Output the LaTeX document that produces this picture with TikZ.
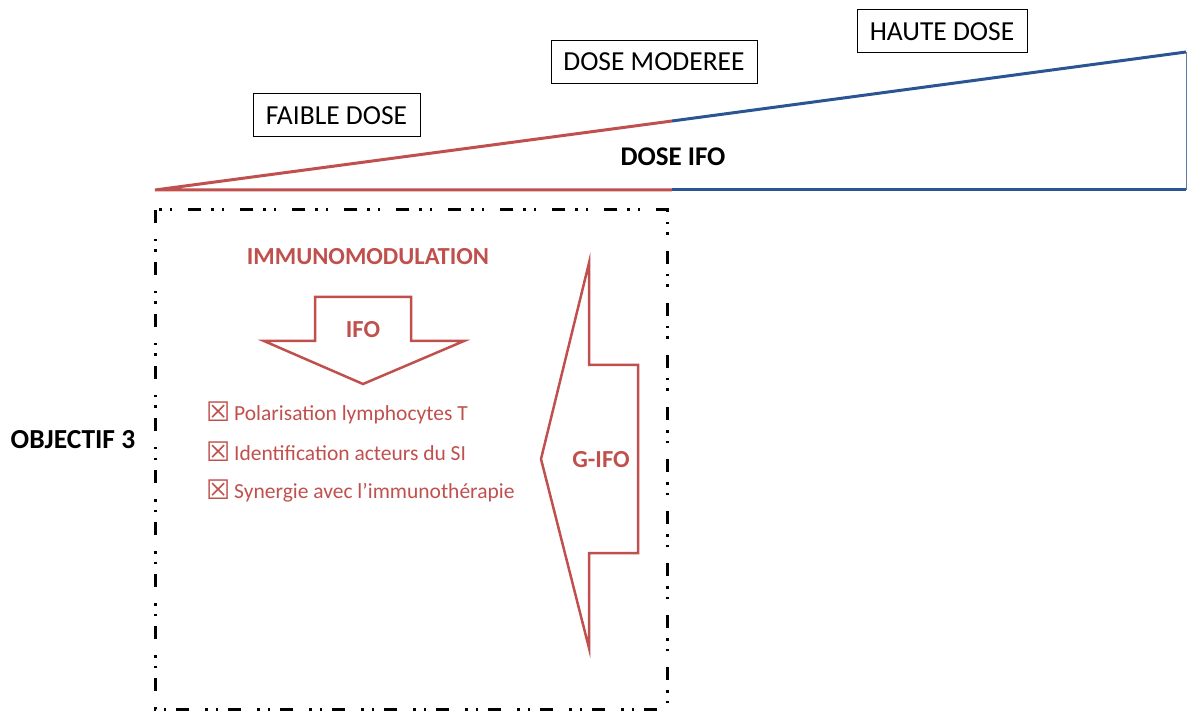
\documentclass[tikz,border=0pt]{standalone}
\usepackage{fontspec}
\setmainfont{Carlito}
\newfontfamily\symfont{DejaVu Sans}
\definecolor{myred}{HTML}{C0504D}
\definecolor{myblue}{HTML}{2B5592}
\definecolor{edgeblue}{HTML}{5A7BA8}
\newcommand{\cbx}{\makebox[28pt][l]{\raisebox{-1.5pt}{\symfont\fontsize{27}{30}\selectfont ☒}}}
\tikzset{
  lbl/.style={draw=black, line width=1pt, minimum height=43pt, inner xsep=8pt, font=\fontsize{27.5}{30}\selectfont},
  redtxt/.style={text=myred, font=\bfseries\fontsize{24.5}{28}\selectfont},
  item/.style={text=myred, anchor=west, inner sep=0pt, font=\fontsize{21.5}{25}\selectfont},
  arrowshape/.style={draw=myred, line width=2.5pt, line join=miter},
  framebox/.style={draw=black, line width=3pt, line cap=butt, dash pattern=on 13pt off 16pt on 2.5pt off 8pt on 2.5pt off 10pt}
}
\begin{document}
\begin{tikzpicture}[x=1pt,y=-1pt]
\useasboundingbox (0,0) rectangle (1187,711);
% dose triangle
\coordinate (apex) at (155,190);
\coordinate (mid) at (672,121);
\coordinate (midb) at (672,190);
\coordinate (top) at (1186,52);
\coordinate (bot) at (1186,190);
\draw[myred, line width=3pt, line join=miter] (mid) -- (apex) -- (midb);
\draw[myblue, line width=3pt] (mid) -- (top);
\draw[myblue, line width=3pt] (midb) -- (bot);
\draw[edgeblue, line width=1pt] (top) -- (bot);
\node[font=\bfseries\fontsize{27}{30}\selectfont] (doseifo) at (673,157) {DOSE IFO};
% labels
\node[lbl, minimum width=167pt] (faible) at (336.5,115.5) {FAIBLE DOSE};
\node[lbl, minimum width=206pt] (moderee) at (654,62) {DOSE MODEREE};
\node[lbl, minimum width=170pt] (haute) at (942,31.5) {HAUTE DOSE};
% frame
\draw[framebox] (155,210) rectangle (667,709);
\node[font=\bfseries\fontsize{27.5}{30}\selectfont] (obj) at (73,440) {OBJECTIF 3};
\node[redtxt] (immuno) at (368,257) {IMMUNOMODULATION};
% down arrow
\draw[arrowshape] (315,297) -- (411,297) -- (411,341) -- (464,341) -- (363,384) -- (264,341) -- (315,341) -- cycle;
\node[redtxt] (ifo) at (363,330) {IFO};
% list
\node[item] (i1) at (206,413) {\cbx Polarisation lymphocytes T};
\node[item] (i2) at (206,452) {\cbx Identification acteurs du SI};
\node[item] (i3) at (206,491) {\cbx Synergie avec l’immunothérapie};
% left arrow
\draw[arrowshape] (589,263) -- (589,365) -- (638,365) -- (638,553) -- (589,553) -- (589,648) -- (541,459) -- cycle;
\node[redtxt] (gifo) at (601,460) {G-IFO};
\end{tikzpicture}
\end{document}
